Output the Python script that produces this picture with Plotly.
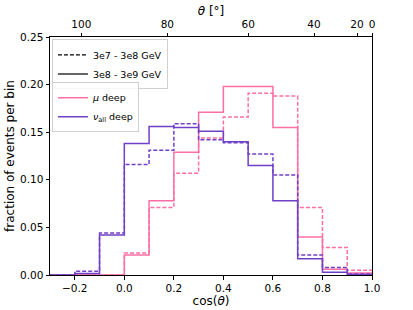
import numpy as np
import plotly.graph_objects as go

# bin edges in cos(theta)
edges = [-0.3, -0.2, -0.1, 0.0, 0.1, 0.2, 0.3, 0.4, 0.5, 0.6, 0.7, 0.8, 0.9, 1.0]

# fraction of events per bin
mu_low = [0.0, 0.0, 0.0, 0.023, 0.071, 0.107, 0.144, 0.166, 0.191, 0.188, 0.071, 0.029, 0.005]   # 3e7-3e8, dashed
mu_high = [0.0, 0.0, 0.0, 0.021, 0.078, 0.129, 0.171, 0.198, 0.198, 0.155, 0.040, 0.006, 0.002]  # 3e8-3e9, solid
nu_low = [0.0, 0.004, 0.044, 0.116, 0.131, 0.159, 0.142, 0.139, 0.127, 0.105, 0.021, 0.008, 0.001]
nu_high = [0.0, 0.0017, 0.042, 0.138, 0.156, 0.155, 0.151, 0.140, 0.115, 0.078, 0.017, 0.003, 0.0005]

theta_ticks = [100, 80, 60, 40, 20, 0]
y_ticks = [0.0, 0.05, 0.10, 0.15, 0.20, 0.25]

PINK = "#ff6fa5"
PURPLE = "#7040c8"
DASH = "4px,2px"


def step_xy(e, v):
    xs = [e[0]] + list(e[:-1]) + [e[-1], e[-1]]
    ys = [0] + list(v) + [v[-1], 0]
    return xs, ys


fig = go.Figure()

for vals, col, dash in [(mu_low, PINK, DASH), (mu_high, PINK, "solid"),
                        (nu_low, PURPLE, DASH), (nu_high, PURPLE, "solid")]:
    xs, ys = step_xy(edges, vals)
    fig.add_trace(go.Scatter(x=xs, y=ys, mode="lines", line_shape="hv",
                             line=dict(color=col, width=1.5, dash=dash),
                             showlegend=False, hoverinfo="skip"))

# legend 1: energy ranges
fig.add_trace(go.Scatter(x=[None], y=[None], mode="lines", name="3e7 - 3e8 GeV",
                         line=dict(color="black", width=1.3, dash=DASH), legend="legend"))
fig.add_trace(go.Scatter(x=[None], y=[None], mode="lines", name="3e8 - 3e9 GeV",
                         line=dict(color="#333333", width=1.5), legend="legend"))
# legend 2: flavours
fig.add_trace(go.Scatter(x=[None], y=[None], mode="lines", name="<i>μ</i> deep",
                         line=dict(color=PINK, width=1.5), legend="legend2"))
fig.add_trace(go.Scatter(x=[None], y=[None], mode="lines", name="<i>ν</i><sub>all</sub> deep",
                         line=dict(color=PURPLE, width=1.5), legend="legend2"))

# top axis trace (invisible) to activate xaxis2
fig.add_trace(go.Scatter(x=[-0.3, 1.0], y=[0, 0], xaxis="x2", mode="lines",
                         line=dict(width=0), showlegend=False, hoverinfo="skip"))

font = dict(family="DejaVu Sans", size=10.5, color="black")

fig.update_layout(
    width=413, height=310,
    margin=dict(l=50, r=41, t=37, b=35),
    paper_bgcolor="white", plot_bgcolor="white",
    font=font,
    xaxis=dict(range=[-0.3, 1.0], tickvals=[-0.2, 0.0, 0.2, 0.4, 0.6, 0.8, 1.0],
               tickformat=".1f", ticks="outside", ticklen=3.5, tickcolor="black",
               showline=True, linecolor="black", linewidth=1, mirror=False,
               showgrid=False, zeroline=False, automargin=False,
               title=dict(text="cos(<i>θ</i>)", font=dict(size=12), standoff=0)),
    xaxis2=dict(range=[-0.3, 1.0], overlaying="x", side="top",
                tickvals=[float(np.cos(np.radians(t))) for t in theta_ticks],
                ticktext=[str(t) for t in theta_ticks],
                ticks="outside", ticklen=3.5, tickcolor="black",
                showline=True, linecolor="black", linewidth=1,
                showgrid=False, zeroline=False, automargin=False,
                title=dict(text="<i>θ</i> [°]", font=dict(size=12), standoff=0)),
    yaxis=dict(range=[0, 0.25], tickvals=y_ticks, tickformat=".2f",
               ticks="outside", ticklen=3.5, tickcolor="black",
               showline=True, linecolor="black", linewidth=1, mirror=True,
               showgrid=False, zeroline=False, automargin=False,
               title=dict(text="fraction of events per bin", font=dict(size=12), standoff=2)),
    legend=dict(x=0.006, y=0.99, xanchor="left", yanchor="top",
                bgcolor="rgba(255,255,255,0.8)", bordercolor="#d0d0d0", borderwidth=1,
                font=dict(size=9.5), itemwidth=30, tracegroupgap=0,
                ),
    legend2=dict(x=0.006, y=0.81, xanchor="left", yanchor="top",
                 bgcolor="rgba(255,255,255,0.8)", bordercolor="#d0d0d0", borderwidth=1,
                 font=dict(size=9.5), itemwidth=30, tracegroupgap=0),
)

fig.write_html("out.html", config={"displayModeBar": False},
               post_script="document.body.style.margin='0';")
